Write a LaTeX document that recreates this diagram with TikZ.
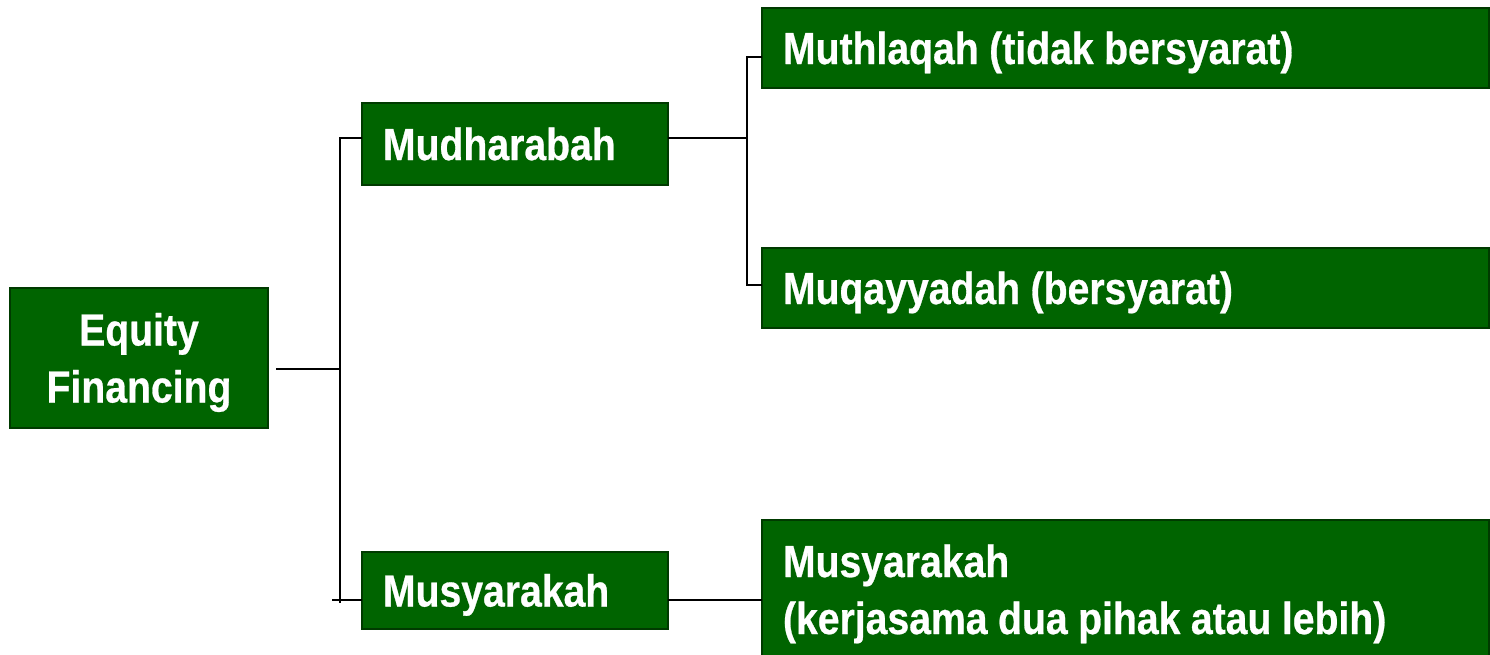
\documentclass[tikz,border=0pt]{standalone}
\usepackage{fontspec}
\newfontfamily\boxfont{Liberation Sans}[FakeStretch=0.87, BoldFeatures={FakeBold=0.6}]
\usetikzlibrary{calc}
\definecolor{boxgreen}{RGB}{0,100,0}
\definecolor{boxrim}{RGB}{0,58,0}
\newcommand{\boxtextfont}{\boxfont\bfseries\fontsize{45}{57}\selectfont\spaceskip=10.5pt\xspaceskip=10.5pt\relax}
\begin{document}
\begin{tikzpicture}[x=1pt,y=-1pt,
  gbox/.style={draw=boxrim, line width=2pt, fill=boxgreen, text=white,
    font=\boxtextfont, inner sep=0pt, outer sep=0pt},
  leftbox/.style={gbox, anchor=north west, inner xsep=21pt, align=left,
    text height=32pt, text depth=0pt},
  link/.style={draw=black, line width=2.2pt}]
\clip (0,0) rectangle (1490,654);
\fill[white] (0,0) rectangle (1490,654);

% boxes
\node[gbox, align=center, minimum width=258pt, minimum height=140pt,
  text height=89pt, text depth=0pt] (eq) at (139,358) {Equity\\Financing};
\node[leftbox, text width=264pt, minimum height=82pt] (mud) at (362,103) {Mudharabah};
\node[leftbox, text width=264pt, minimum height=77pt] (mus) at (362,552) {Musyarakah};
\node[leftbox, text width=685pt, minimum height=80pt] (muth) at (762,8) {\spaceskip=10.5pt Muthlaqah (tidak bersyarat)};
\node[leftbox, text width=685pt, minimum height=80pt] (muq) at (762,248) {\spaceskip=10.5pt Muqayyadah (bersyarat)};
\node[leftbox, text width=685pt, minimum height=160pt, text depth=78pt] (musb) at (762,520)
  {\spaceskip=10.5pt Musyarakah\\(kerjasama dua pihak atau lebih)};

% junction points
\coordinate (tm) at (340,369);
\coordinate (ta) at (340,138);
\coordinate (tb) at (340,603);
\coordinate (tc) at (332,600);
\coordinate (ra) at (747,138);
\coordinate (rb) at (747,57);
\coordinate (rc) at (747,285);
\coordinate (rm) at (747,600);

% connectors
\draw[link] ($(eq.east|-tm)+(8,0)$) -- (tm);
\draw[link] (tb) -- (ta) -- (ta -| mud.west);
\draw[link] (tc) -- (tc -| mus.west);
\draw[link] (mud.east |- ra) -- (ra);
\draw[link] (rc -| muq.west) -- (rc) -- (rb) -- (rb -| muth.west);
\draw[link] (mus.east |- rm) -- (rm -| musb.west);
\end{tikzpicture}
\end{document}
